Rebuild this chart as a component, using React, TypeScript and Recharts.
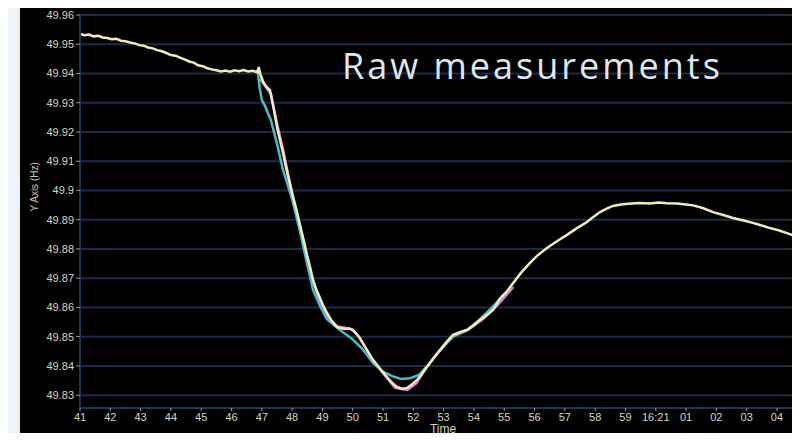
import React from 'react';
import { LineChart, Line, XAxis, YAxis, CartesianGrid } from 'recharts';

// minutes after hh:41
const rawTimes = [
  0.0, 0.15, 0.3, 0.45, 0.6, 0.75, 0.9, 1.05, 1.2, 1.35, 1.5, 1.65, 1.8, 1.95, 2.1, 2.25, 2.4, 2.55, 2.7, 2.85,
  3.0, 3.15, 3.3, 3.45, 3.6, 3.75, 3.9, 4.05, 4.2, 4.35, 4.5, 4.65, 4.8, 4.95, 5.1, 5.25, 5.4, 5.55, 5.7, 5.85,
  5.9, 5.95, 6.05, 6.15, 6.27, 6.4, 6.5, 6.6, 6.7, 6.85, 7.03, 7.15, 7.26, 7.38, 7.49, 7.6, 7.69, 7.8, 7.92, 8.03,
  8.15, 8.3, 8.48, 8.62, 8.75, 8.88, 9.01, 9.12, 9.24, 9.45, 9.67, 9.9, 10.13, 10.3, 10.46, 10.62, 10.79, 10.95, 11.12, 11.28,
  11.45, 11.66, 11.88, 12.1, 12.31, 12.55, 12.77, 13.0, 13.2, 13.42, 13.63, 13.86, 14.09, 14.29, 14.55, 14.85, 15.1, 15.41, 15.75, 16.07,
  16.4, 16.73, 16.95, 17.16, 17.38, 17.59, 17.9, 18.2, 18.48, 18.8, 19.1, 19.37, 19.7, 20.0, 20.23, 20.55, 20.89, 21.2, 21.55, 21.9,
  22.2, 22.44, 22.75, 23.05, 23.33, 23.55, 23.76,
];
const rawHz = [
  49.9535, 49.9531, 49.9533, 49.9527, 49.9529, 49.9523, 49.9521, 49.9517, 49.9519, 49.9512, 49.951, 49.9506, 49.9503, 49.9497, 49.9495, 49.9489, 49.9486, 49.948, 49.9476, 49.947,
  49.9463, 49.9461, 49.9454, 49.9448, 49.9441, 49.9437, 49.9428, 49.9425, 49.9418, 49.9414, 49.9411, 49.9407, 49.941, 49.9406, 49.9411, 49.9408, 49.9412, 49.9407, 49.9409, 49.9404,
  49.9422, 49.9398, 49.937, 49.9355, 49.9343, 49.9275, 49.9217, 49.9172, 49.9128, 49.9055, 49.8978, 49.893, 49.8882, 49.883, 49.8779, 49.8735, 49.8694, 49.866, 49.8632, 49.8605,
  49.8581, 49.8555, 49.8533, 49.8529, 49.8526, 49.8528, 49.8521, 49.851, 49.8495, 49.8458, 49.842, 49.839, 49.8362, 49.8342, 49.8328, 49.8322, 49.8324, 49.8336, 49.8352, 49.8372,
  49.8396, 49.8425, 49.8454, 49.8482, 49.8506, 49.8516, 49.8523, 49.854, 49.8557, 49.8573, 49.8591, 49.863, 49.8655, 49.8683, 49.8718, 49.8752, 49.8778, 49.8803, 49.8827, 49.8848,
  49.8871, 49.8892, 49.891, 49.8926, 49.8938, 49.8947, 49.8953, 49.8955, 49.8957, 49.8955, 49.8959, 49.8956, 49.8955, 49.8952, 49.8949, 49.894, 49.8926, 49.8917, 49.8906, 49.8897,
  49.8889, 49.8882, 49.8872, 49.8864, 49.8854, 49.8846, 49.8837,
];

const cyanTimes = [
  5.87, 5.93, 6.0, 6.1, 6.3, 6.5, 6.7, 7.0, 7.26, 7.49, 7.69, 7.92, 8.15, 8.48, 8.75, 9.01, 9.3, 9.67, 10.0, 10.3,
  10.6, 10.9, 11.2, 11.5, 11.9, 12.3, 12.8, 13.2, 13.6, 14.1,
];
const cyanHz = [
  49.9405, 49.935, 49.931, 49.929, 49.924, 49.916, 49.907, 49.897, 49.886, 49.875, 49.866, 49.8605, 49.856, 49.853, 49.851, 49.849, 49.846, 49.841, 49.838, 49.8365,
  49.8355, 49.8358, 49.837, 49.8405, 49.8455, 49.85, 49.8525, 49.856, 49.86, 49.8655,
];

const pinkTimes = [
  5.95, 6.3, 6.5, 6.7, 7.0, 7.3, 7.6, 7.9, 8.2, 8.5, 8.8, 9.0, 9.2, 9.6, 10.0, 10.4, 10.8, 11.1, 11.4, 11.8,
  12.3, 12.8, 13.3, 13.8, 14.3,
];
const pinkHz = [
  49.938, 49.933, 49.923, 49.914, 49.899, 49.886, 49.872, 49.8625, 49.856, 49.8535, 49.853, 49.8525, 49.85, 49.843, 49.8375, 49.8325, 49.8318, 49.834, 49.839, 49.8445,
  49.85, 49.8522, 49.856, 49.861, 49.867,
];

const xTickLabels = [
  '41', '42', '43', '44', '45', '46', '47', '48', '49', '50', '51', '52', '53', '54', '55', '56', '57', '58', '59',
  '16:21', '01', '02', '03', '04',
];
const yTicks = [49.83, 49.84, 49.85, 49.86, 49.87, 49.88, 49.89, 49.9, 49.91, 49.92, 49.93, 49.94, 49.95, 49.96];
const yMinorTicks = [49.835, 49.845, 49.855, 49.865, 49.875, 49.885, 49.895, 49.905, 49.915, 49.925, 49.935, 49.945, 49.955];

const toPoints = (ts: number[], vs: number[]) => ts.map((t, i) => ({ t, hz: vs[i] }));

const rawData = toPoints(rawTimes, rawHz);
const cyanData = toPoints(cyanTimes, cyanHz);
const pinkData = toPoints(pinkTimes, pinkHz);
const xTicks = xTickLabels.map((_, i) => i);

const tickStyle = { fill: '#d6d4c4', fontSize: 11, fontFamily: 'Liberation Sans, Arial, sans-serif' };

export default function App() {
  return (
    <div style={{ position: 'relative', width: 800, height: 441, margin: -8, background: '#eef3fa', overflow: 'hidden' }}>
      <div style={{ position: 'absolute', left: 20, top: 7, width: 780, height: 434, background: '#000' }}>
        <LineChart width={780} height={434} margin={{ top: 8, right: 0, left: 0, bottom: 0 }}>
          <CartesianGrid horizontal vertical={false} stroke="#1c2b46" strokeWidth={2} yAxisId="main" />
          <XAxis
            type="number"
            dataKey="t"
            domain={[0, 23.76]}
            ticks={xTicks}
            interval={0}
            tickFormatter={(v: number) => xTickLabels[v] ?? ''}
            tick={tickStyle}
            tickSize={3}
            tickLine={{ stroke: '#9a9a9a' }}
            axisLine={{ stroke: '#1f3358', strokeWidth: 2 }}
            height={33}
            allowDataOverflow
          />
          <YAxis
            yAxisId="main"
            type="number"
            domain={[49.8256, 49.96]}
            ticks={yTicks}
            interval={0}
            tickFormatter={(v: number) => String(v)}
            tick={tickStyle}
            tickSize={4}
            tickLine={{ stroke: '#9a9a9a' }}
            axisLine={{ stroke: '#1f3358', strokeWidth: 2 }}
            width={60}
            allowDataOverflow
            label={{ value: 'Y Axis (Hz)', angle: -90, position: 'insideLeft', offset: 14, fill: '#c8c6b8', fontSize: 10, fontFamily: 'Liberation Sans, Arial, sans-serif' }}
          />
          <YAxis
            yAxisId="minor"
            type="number"
            domain={[49.8256, 49.96]}
            ticks={yMinorTicks}
            interval={0}
            tick={false}
            tickSize={2}
            tickLine={{ stroke: '#7a7a7a' }}
            axisLine={false}
            width={0}
            allowDataOverflow
          />
          <Line yAxisId="main" data={pinkData} dataKey="hz" type="linear" stroke="#e07ad8" strokeWidth={2.5} dot={false} isAnimationActive={false} />
          <Line yAxisId="main" data={cyanData} dataKey="hz" type="linear" stroke="#4fb8c6" strokeWidth={2.5} dot={false} isAnimationActive={false} />
          <Line yAxisId="main" data={rawData} dataKey="hz" type="linear" stroke="#f2ebbd" strokeWidth={2.5} dot={false} isAnimationActive={false} />
        </LineChart>
        <div
          style={{
            position: 'absolute',
            left: 423,
            top: 416,
            transform: 'translateX(-50%)',
            color: '#d6d4c4',
            fontFamily: 'Liberation Sans, Arial, sans-serif',
            fontSize: 12,
            lineHeight: 1,
          }}
        >
          Time
        </div>
        <div
          style={{
            position: 'absolute',
            left: 322,
            top: 41,
            color: '#dfe6f3',
            fontFamily: 'Open Sans, Lato, sans-serif',
            fontSize: 36,
            letterSpacing: 3,
            lineHeight: 1,
            whiteSpace: 'nowrap',
          }}
        >
          Raw measurements
        </div>
      </div>
    </div>
  );
}
